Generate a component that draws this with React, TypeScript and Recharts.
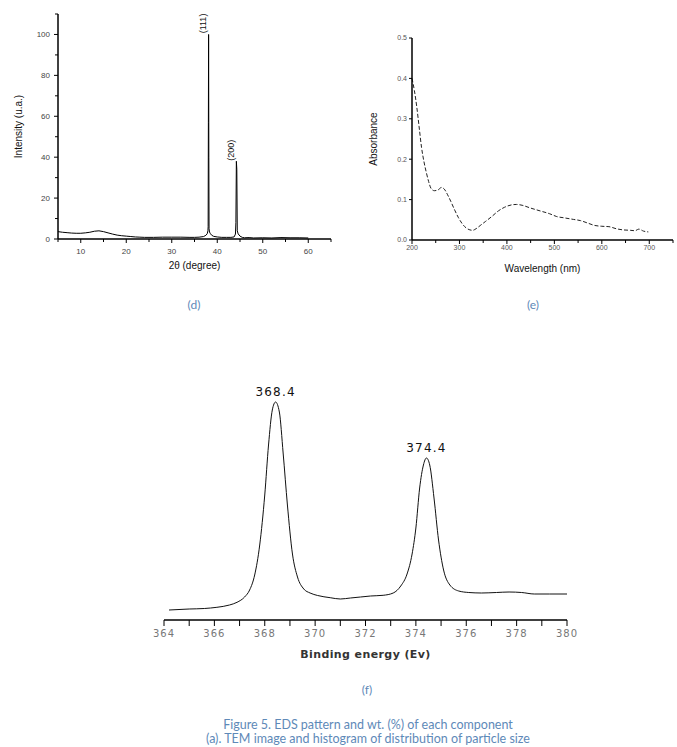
import React from 'react';
import { LineChart, Line, XAxis, YAxis, ReferenceDot } from 'recharts';

// (d) XRD pattern
const xrdAngle = [5, 6, 7, 8, 9, 10, 11, 12, 13, 14, 15, 16, 17, 18, 19, 20, 21, 22, 23, 24, 26, 28, 30, 32, 34, 35, 36, 37, 37.5, 37.8, 37.95, 38.0, 38.05, 38.1, 38.15, 38.2, 38.3, 38.5, 38.8, 39.2, 40, 41, 42, 43, 43.7, 44.0, 44.1, 44.2, 44.3, 44.4, 44.6, 45, 45.5, 46, 47, 48, 50, 52, 54, 56, 58, 60];
const xrdIntensity = [3.6, 3.3, 3.1, 2.9, 2.8, 2.8, 3.0, 3.3, 3.8, 4.0, 3.6, 3.0, 2.4, 1.9, 1.6, 1.4, 1.2, 1.0, 0.9, 0.8, 0.8, 0.9, 0.9, 0.9, 0.8, 0.8, 0.9, 1.2, 1.8, 2.6, 4, 6, 57, 100, 40, 5, 3.4, 2.6, 1.8, 1.3, 1.0, 0.8, 0.8, 0.8, 1.0, 2.4, 8, 38, 34, 4, 2.5, 1.4, 0.8, 0.6, 0.7, 0.5, 0.6, 0.5, 0.7, 0.6, 0.6, 0.5];
const xrdPeaks = [
    { angle: 38.1, intensity: 100, hkl: '(111)' },
    { angle: 44.2, intensity: 38, hkl: '(200)' },
];
const xrdXTicks = [5, 10, 15, 20, 25, 30, 35, 40, 45, 50, 55, 60, 65];
const xrdYTicks = [0, 10, 20, 30, 40, 50, 60, 70, 80, 90, 100, 110];

// (e) UV-vis absorbance
const uvWavelength = [200, 205, 210, 215, 220, 225, 230, 235, 240, 247, 255, 262, 268, 275, 282, 290, 298, 306, 314, 322, 328, 335, 345, 355, 368, 382, 395, 410, 420, 432, 450, 470, 490, 505, 520, 540, 555, 570, 585, 600, 615, 630, 645, 660, 670, 678, 688, 698];
const uvAbsorbance = [0.40, 0.37, 0.33, 0.28, 0.23, 0.195, 0.168, 0.145, 0.128, 0.122, 0.124, 0.13, 0.126, 0.112, 0.095, 0.074, 0.055, 0.04, 0.03, 0.025, 0.024, 0.028, 0.037, 0.046, 0.058, 0.072, 0.081, 0.087, 0.088, 0.086, 0.079, 0.072, 0.065, 0.058, 0.055, 0.051, 0.048, 0.042, 0.036, 0.034, 0.033, 0.028, 0.025, 0.024, 0.023, 0.027, 0.022, 0.02];
const uvXTicks = [200, 250, 300, 350, 400, 450, 500, 550, 600, 650, 700, 750];
const uvYTicks = [0, 0.1, 0.2, 0.3, 0.4, 0.5];

// (f) XPS spectrum
const xpsEnergy = [364.2, 365.0, 365.6, 366.1, 366.6, 366.9, 367.2, 367.4, 367.6, 367.8, 368.0, 368.15, 368.3, 368.43, 368.58, 368.73, 368.9, 369.1, 369.3, 369.55, 369.8, 370.1, 370.6, 371.0, 371.4, 371.8, 372.2, 372.7, 373.1, 373.4, 373.65, 373.85, 374.0, 374.15, 374.3, 374.42, 374.55, 374.72, 374.9, 375.1, 375.35, 375.7, 376.1, 376.6, 377.2, 377.7, 378.2, 378.7, 379.3, 380.0];
const xpsCounts = [10, 11, 11.5, 12.7, 15, 17.7, 23, 30, 45, 75, 125, 175, 210, 218, 208, 167, 115, 66, 43, 31, 27, 24.5, 22.3, 21, 22, 23, 24, 24.7, 27, 34, 46, 66, 92, 132, 155, 162, 155, 122, 80, 50, 35, 29, 27.5, 27, 27.5, 28, 27.5, 26, 26, 26];
const xpsPeaks = [
    { energy: 368.43, counts: 218, text: '368.4' },
    { energy: 374.42, counts: 162, text: '374.4' },
];
const xpsXTicks = [364, 365, 366, 367, 368, 369, 370, 371, 372, 373, 374, 375, 376, 377, 378, 379, 380];

const xrdData = xrdAngle.map((a, i) => ({ angle: a, intensity: xrdIntensity[i] }));
const uvData = uvWavelength.map((w, i) => ({ wl: w, abs: uvAbsorbance[i] }));
const xpsData = xpsEnergy.map((e, i) => ({ energy: e, counts: xpsCounts[i] }));

const ARIAL = '"Liberation Sans", Arial, sans-serif';
const WIDE = '"DejaVu Sans", Verdana, sans-serif';
const CAPTION = '#5e89b8';

type TickOpts = {
    isMajor: (v: number) => boolean;
    fmt: (v: number) => string;
    major: number;
    minor: number;
    gap: number;
    fontSize: number;
    font: string;
    color: string;
    spacing?: number;
};

const bottomTick = (o: TickOpts) => (props: any) => {
    const { x, y, payload } = props;
    const v = payload.value;
    const big = o.isMajor(v);
    return (
        <g>
            <line x1={x} y1={y} x2={x} y2={y + (big ? o.major : o.minor)} stroke="#000" strokeWidth={1} />
            {big && (
                <text x={x} y={y + o.gap} textAnchor="middle" fontSize={o.fontSize} fontFamily={o.font} fill={o.color} letterSpacing={o.spacing || 0}>
                    {o.fmt(v)}
                </text>
            )}
        </g>
    );
};

const leftTick = (o: TickOpts) => (props: any) => {
    const { x, y, payload } = props;
    const v = payload.value;
    const big = o.isMajor(v);
    return (
        <g>
            <line x1={x} y1={y} x2={x - (big ? o.major : o.minor)} y2={y} stroke="#000" strokeWidth={1} />
            {big && (
                <text x={x - o.gap} y={y} dy="0.35em" textAnchor="end" fontSize={o.fontSize} fontFamily={o.font} fill={o.color}>
                    {o.fmt(v)}
                </text>
            )}
        </g>
    );
};

// rotated Miller index label sitting just left of the peak top
const hklLabel = (text: string) => (props: any) => {
    const { viewBox } = props;
    const cx = viewBox.x + viewBox.width / 2 - 6;
    const cy = viewBox.y - 11;
    return (
        <text transform={`translate(${cx},${cy}) rotate(-90)`} textAnchor="middle" dy="0.35em" fontSize={9} fontFamily={ARIAL} fill="#111">
            {text}
        </text>
    );
};

const caption = (text: string, cx: number, cy: number, size: number, w = 120) => (
    <div
        style={{
            position: 'absolute',
            left: cx - w / 2,
            top: cy - 8,
            width: w,
            lineHeight: '16px',
            textAlign: 'center',
            fontFamily: 'Lato, "Open Sans", sans-serif',
            fontWeight: 400,
            fontSize: size,
            color: CAPTION,
            whiteSpace: 'nowrap',
        }}
    >
        {text}
    </div>
);

const axisLine = { stroke: '#000', strokeWidth: 1.5 };

export default function App() {
    return (
        <div style={{ position: 'absolute', left: 0, top: 0, width: 677, height: 747, background: '#fff', overflow: 'hidden' }}>
            {/* (d) */}
            <div style={{ position: 'absolute', left: 0, top: 0 }}>
                <LineChart width={345} height={280} data={xrdData} margin={{ top: 14, right: 14, left: 18, bottom: 11 }}>
                    <XAxis
                        dataKey="angle"
                        type="number"
                        domain={[5, 65]}
                        ticks={xrdXTicks}
                        interval={0}
                        height={30}
                        tickSize={0}
                        tickMargin={0}
                        tickLine={false}
                        axisLine={axisLine}
                        tick={bottomTick({ isMajor: (v) => v % 10 === 0, fmt: (v) => String(v), major: 4, minor: 3, gap: 15, fontSize: 8, font: ARIAL, color: '#444' })}
                        label={{ value: '2θ (degree)', position: 'insideBottom', offset: 0, fontSize: 10, fontFamily: ARIAL, fill: '#111' }}
                    />
                    <YAxis
                        type="number"
                        domain={[0, 110]}
                        ticks={xrdYTicks}
                        interval={0}
                        width={40}
                        tickSize={0}
                        tickMargin={0}
                        tickLine={false}
                        axisLine={axisLine}
                        tick={leftTick({ isMajor: (v) => v % 20 === 0 && v <= 100, fmt: (v) => String(v), major: 4, minor: 3, gap: 8, fontSize: 8, font: ARIAL, color: '#444' })}
                        label={{ value: 'Intensity (u.a.)', position: 'insideLeft', angle: -90, offset: 0, textAnchor: 'middle', fontSize: 10, fontFamily: ARIAL, fill: '#111' }}
                    />
                    <Line type="linear" dataKey="intensity" stroke="#000" strokeWidth={1} dot={false} isAnimationActive={false} />
                    {xrdPeaks.map((p) => (
                        <ReferenceDot key={p.hkl} x={p.angle} y={p.intensity} r={0} fill="none" stroke="none" label={hklLabel(p.hkl)} />
                    ))}
                </LineChart>
            </div>

            {/* (e) */}
            <div style={{ position: 'absolute', left: 340, top: 0 }}>
                <LineChart width={337} height={280} data={uvData} margin={{ top: 38, right: 4, left: 32, bottom: 10 }}>
                    <XAxis
                        dataKey="wl"
                        type="number"
                        domain={[200, 750]}
                        ticks={uvXTicks}
                        interval={0}
                        height={30}
                        tickSize={0}
                        tickMargin={0}
                        tickLine={false}
                        axisLine={axisLine}
                        tick={bottomTick({ isMajor: (v) => v % 100 === 0, fmt: (v) => String(v), major: 4, minor: 3, gap: 10, fontSize: 7, font: ARIAL, color: '#555' })}
                        label={{ value: 'Wavelength (nm)', position: 'insideBottom', offset: -2, fontSize: 10, fontFamily: ARIAL, fill: '#111' }}
                    />
                    <YAxis
                        type="number"
                        domain={[0, 0.5]}
                        ticks={uvYTicks}
                        interval={0}
                        width={40}
                        tickSize={0}
                        tickMargin={0}
                        tickLine={false}
                        axisLine={axisLine}
                        tick={leftTick({ isMajor: () => true, fmt: (v) => v.toFixed(1), major: 3, minor: 3, gap: 5, fontSize: 7, font: ARIAL, color: '#555' })}
                        label={{ value: 'Absorbance', position: 'insideLeft', angle: -90, offset: 1, textAnchor: 'middle', fontSize: 10, fontFamily: ARIAL, fill: '#111' }}
                    />
                    <Line type="monotone" dataKey="abs" stroke="#222" strokeWidth={1} strokeDasharray="4 2" dot={false} isAnimationActive={false} />
                </LineChart>
            </div>

            {/* (f) */}
            <div style={{ position: 'absolute', left: 100, top: 370 }}>
                <LineChart width={500} height={300} data={xpsData} margin={{ top: 10, right: 33, left: 64, bottom: 10 }}>
                    <XAxis
                        dataKey="energy"
                        type="number"
                        domain={[364, 380]}
                        ticks={xpsXTicks}
                        interval={0}
                        height={40}
                        tickSize={0}
                        tickMargin={0}
                        tickLine={false}
                        axisLine={axisLine}
                        tick={bottomTick({ isMajor: () => true, fmt: (v) => (v % 2 === 0 ? String(v) : ''), major: 6, minor: 6, gap: 17, fontSize: 10, font: WIDE, color: '#777', spacing: 1 })}
                        label={{ value: 'Binding energy (Ev)', position: 'insideBottom', offset: 2, fontSize: 11, fontFamily: WIDE, fontWeight: 'bold', letterSpacing: 0.4, fill: '#333' }}
                    />
                    <YAxis hide type="number" domain={[0, 240]} />
                    <Line type="monotone" dataKey="counts" stroke="#111" strokeWidth={1} dot={false} isAnimationActive={false} />
                    {xpsPeaks.map((p) => (
                        <ReferenceDot
                            key={p.text}
                            x={p.energy}
                            y={p.counts}
                            r={0}
                            fill="none"
                            stroke="none"
                            label={{ value: p.text, position: 'top', offset: 6, fontSize: 12, fontFamily: WIDE, letterSpacing: 1.2, fill: '#111' }}
                        />
                    ))}
                </LineChart>
            </div>

            {caption('(d)', 194, 305, 12)}
            {caption('(e)', 533, 305, 12)}
            {caption('(f)', 367, 690, 12)}
            {caption('Figure 5. EDS pattern and wt. (%) of each component', 368, 725, 12.5, 420)}
            {caption('(a). TEM image and histogram of distribution of particle size', 368, 739, 12.5, 440)}
        </div>
    );
}
